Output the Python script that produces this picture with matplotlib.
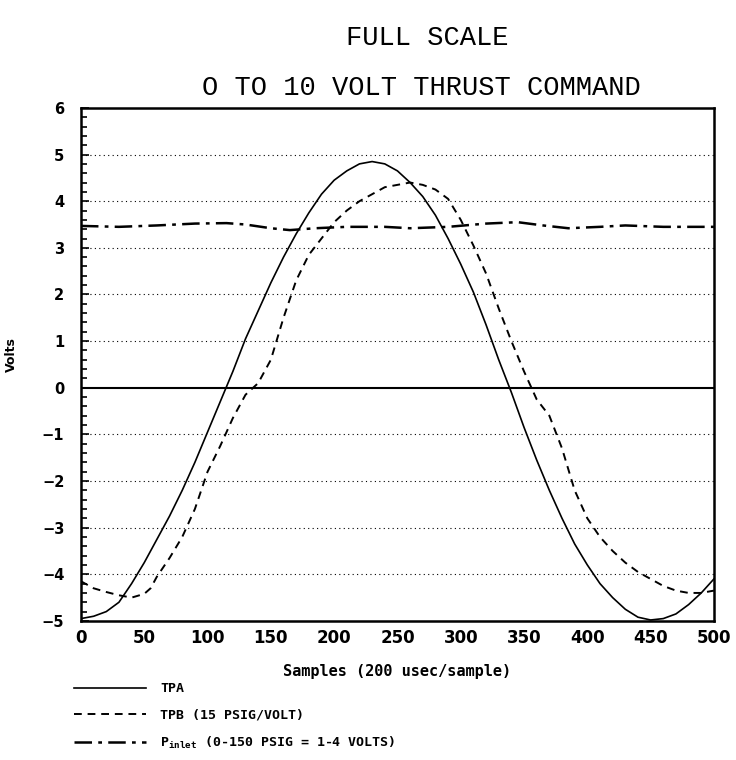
import matplotlib
matplotlib.use('Agg')
import matplotlib.pyplot as plt
from matplotlib.ticker import MultipleLocator

# %% data
x_tpa = [0, 10, 20, 30, 40, 50, 60, 70, 80, 90, 100, 110, 120, 130, 140, 150, 160, 170, 180, 190,
         200, 210, 220, 230, 240, 250, 260, 270, 280, 290, 300, 310, 320, 330, 340, 350, 360, 370,
         380, 390, 400, 410, 420, 430, 440, 450, 460, 470, 480, 490, 500]
tpa = [-4.95, -4.9, -4.8, -4.6, -4.2, -3.75, -3.25, -2.75, -2.2, -1.6, -0.95, -0.3, 0.35, 1.05, 1.65,
       2.25, 2.8, 3.3, 3.75, 4.15, 4.45, 4.65, 4.8, 4.85, 4.8, 4.65, 4.4, 4.1, 3.7, 3.2, 2.65, 2.05,
       1.35, 0.6, -0.1, -0.85, -1.55, -2.2, -2.8, -3.35, -3.8, -4.2, -4.5, -4.75, -4.92, -4.98, -4.95,
       -4.85, -4.65, -4.4, -4.1]

x_tpb = [0, 10, 20, 30, 40, 50, 55, 60, 70, 80, 90, 100, 110, 120, 130, 140, 150, 160, 170, 180,
         190, 200, 210, 220, 230, 240, 250, 260, 270, 280, 290, 300, 310, 320, 330, 340, 350, 360,
         370, 380, 390, 400, 410, 420, 430, 440, 450, 460, 470, 480, 490, 500]
tpb = [-4.15, -4.3, -4.38, -4.45, -4.5, -4.42, -4.3, -4.05, -3.65, -3.2, -2.6, -1.8, -1.25, -0.65,
       -0.15, 0.1, 0.6, 1.5, 2.3, 2.85, 3.2, 3.55, 3.8, 4.0, 4.15, 4.3, 4.35, 4.4, 4.35, 4.25, 4.05,
       3.6, 3.05, 2.45, 1.7, 1.0, 0.35, -0.25, -0.6, -1.3, -2.2, -2.8, -3.2, -3.5, -3.75, -3.95,
       -4.1, -4.25, -4.35, -4.4, -4.4, -4.35]

x_pin = [0, 30, 60, 90, 115, 130, 150, 165, 185, 210, 240, 260, 290, 320, 345, 365, 385, 410,
         430, 460, 500]
p_inlet = [3.47, 3.45, 3.48, 3.52, 3.53, 3.5, 3.42, 3.38, 3.42, 3.45, 3.45, 3.42, 3.45, 3.52,
           3.55, 3.48, 3.42, 3.45, 3.48, 3.45, 3.45]

grid_levels = [-4, -3, -2, -1, 1, 2, 3, 4, 5]
xticks = list(range(0, 501, 50))
yticks = list(range(-5, 7))

# %% figure
fig = plt.figure(figsize=(7.36, 7.6), dpi=100)
ax = fig.add_axes([0.11, 0.183, 0.86, 0.675])

for g in grid_levels:
    ax.axhline(g, color='black', lw=0.8, ls=(0, (1, 3)), zorder=1)
ax.axhline(0, color='black', lw=1.5, zorder=2)

l1, = ax.plot(x_tpa, tpa, color='black', lw=1.2, ls='-')
l2, = ax.plot(x_tpb, tpb, color='black', lw=1.4, ls=(0, (4, 3)))
l3, = ax.plot(x_pin, p_inlet, color='black', lw=1.8, ls=(0, (7, 2.5, 1.5, 2.5)))

ax.set_xlim(0, 500)
ax.set_ylim(-5, 6)
ax.set_xticks(xticks)
ax.set_yticks(yticks)
ax.yaxis.set_minor_locator(MultipleLocator(0.2))
ax.tick_params(axis='y', which='both', direction='in', right=False, labelsize=10.5, width=1.2, pad=12)
ax.tick_params(axis='y', which='major', length=6)
ax.tick_params(axis='y', which='minor', length=4)
ax.tick_params(axis='x', length=0, labelsize=12, pad=6)
for lab in ax.get_xticklabels() + ax.get_yticklabels():
    lab.set_fontweight('bold')
for s in ax.spines.values():
    s.set_linewidth(1.8)

ax.set_xlabel('Samples (200 usec/sample)', family='DejaVu Sans Mono', fontsize=11,
              fontweight='bold', labelpad=12)
ax.set_ylabel('Volts', fontsize=9, fontweight='bold')
ax.yaxis.set_label_coords(-0.1, 0.52)

fig.text(0.58, 0.95, 'FULL SCALE', family='Liberation Mono', fontsize=19.5,
         ha='center', va='center')
fig.text(0.572, 0.884, 'O TO 10 VOLT THRUST COMMAND', family='Liberation Mono', fontsize=19.5,
         ha='center', va='center')

fig.legend([l1, l2, l3],
           ['TPA', 'TPB (15 PSIG/VOLT)', r'$\mathregular{P_{inlet}}$ (0-150 PSIG = 1-4 VOLTS)'],
           loc='upper left', bbox_to_anchor=(0.085, 0.118), frameon=False,
           handlelength=5.4, handletextpad=1.1, labelspacing=1.0,
           prop={'family': 'DejaVu Sans Mono', 'weight': 'bold', 'size': 9.5})

fig.savefig('out.png', dpi=100)
